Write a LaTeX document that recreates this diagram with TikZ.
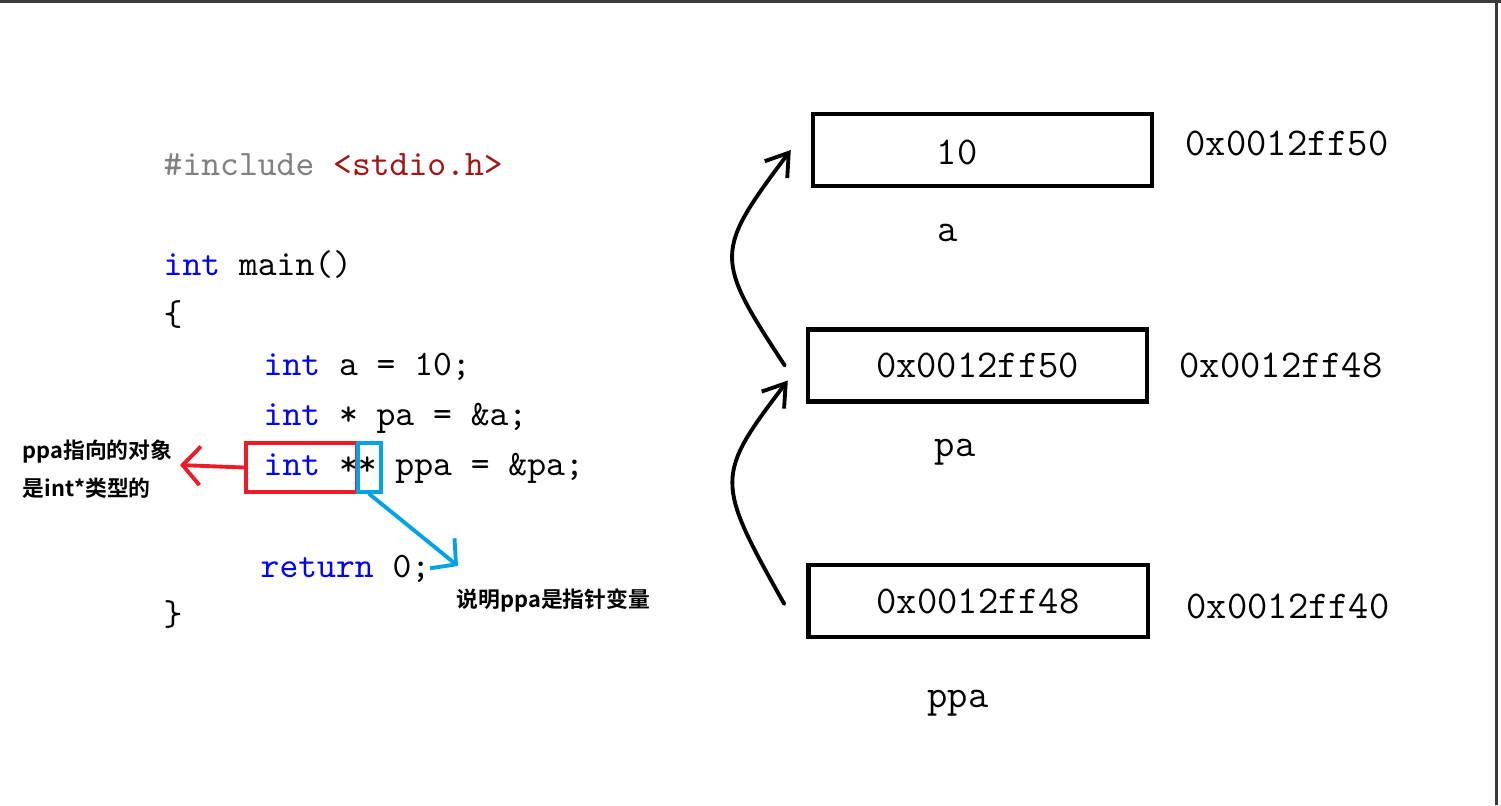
\documentclass[tikz,border=0pt]{standalone}
\usepackage{fontspec}
\usepackage{xcolor}
\usepackage{tikz}
\usetikzlibrary{arrows.meta}
\newfontfamily\cjk{Noto Sans CJK SC}[BoldFont={Noto Sans CJK SC Bold}]
\definecolor{kwblue}{HTML}{0000FF}
\definecolor{prepgray}{HTML}{808080}
\definecolor{incred}{HTML}{A31515}
\definecolor{markred}{HTML}{ED1C24}
\definecolor{markblue}{HTML}{00A2E8}
\definecolor{barcol}{HTML}{3A3A3A}
\newcommand{\kw}[1]{\textcolor{kwblue}{#1}}

\begin{document}
\begin{tikzpicture}[x=0.01cm,y=-0.01cm,
  code/.style={anchor=base west,inner sep=0pt,font=\ttfamily\fontsize{10.2}{12}\selectfont},
  mem/.style={inner sep=0pt,font=\ttfamily\fontsize{11.2}{13}\selectfont},
  membox/.style={mem,draw=black,line width=1.2pt,minimum width=3.39cm,minimum height=0.72cm},
  markbox/.style={draw=#1,line width=1.2pt,minimum height=0.49cm,inner sep=0pt},
  note/.style={anchor=west,inner sep=0pt,font=\cjk\bfseries\fontsize{6.2}{7}\selectfont},
  hand/.style={line width=1.1pt,line cap=round,-{Straight Barb[length=6pt,width=8pt]}},
  markarrow/.style={draw=#1,line width=1.1pt,line cap=round,-{Straight Barb[length=5pt,width=11pt]}}]
\useasboundingbox (0,0) rectangle (1501,805);
\fill[white] (0,0) rectangle (1501,805);
\fill[barcol] (0,0) rectangle (1501,3);
\fill[barcol] (1495,0) rectangle (1498,805);

\node[code] (incl) at (163,175) {\textcolor{prepgray}{\#include} \textcolor{incred}{<stdio.h>}};
\node[code] (mainl) at (163,275) {\kw{int} main()};
\node[code] (lbr) at (163,325) {\{};
\node[code] (la) at (263,375) {\kw{int} a = 10;};
\node[code] (lpa) at (263,425) {\kw{int} * pa = \&a;};
\node[code] (lppa) at (263,475) {\kw{int} ** ppa = \&pa;};
\node[code] (lret) at (260,577) {\kw{return} 0;};
\node[code] (rbr) at (163,625) {\}};

\node[markbox=markred,minimum width=1.11cm] (intbox) at (301.5,467.5) {};
\node[markbox=markblue,minimum width=0.23cm] (starbox) at (369.5,467.5) {};
\coordinate (redtip) at (180,465);
\coordinate (bluetip) at (458,566);
\draw[markarrow=markred] (intbox.west) -- (redtip);
\draw[markarrow=markblue] (starbox.south) -- (bluetip);
\node[note] (n1) at (22,452) {ppa指向的对象};
\node[note] (n2) at (22,488) {是int*类型的};
\node[note] (n3) at (456,600) {说明ppa是指针变量};

\node[membox] (boxa) at (982.5,150) {};
\node[mem] (vala) at (957,152) {10};
\node[membox] (boxpa) at (977.5,365.5) {0x0012ff50};
\node[membox] (boxppa) at (978,601) {0x0012ff48};
\node[mem] (namea) at (948,233) {a};
\node[mem] (namepa) at (955,452) {pa};
\node[mem] (nameppa) at (958,703) {ppa};
\node[mem] (addra) at (1287,143) {0x0012ff50};
\node[mem] (addrpa) at (1281,365) {0x0012ff48};
\node[mem] (addrppa) at (1288,606) {0x0012ff40};

\draw[hand] ([xshift=-0.21cm]boxpa.west) .. controls (714,258) and (714,252) .. ([xshift=-0.2cm]boxa.west);
\draw[hand] ([xshift=-0.22cm,yshift=-0.03cm]boxppa.west) .. controls (715,481) and (715,476) .. ([xshift=-0.18cm,yshift=-0.15cm]boxpa.west);
\end{tikzpicture}
\end{document}
